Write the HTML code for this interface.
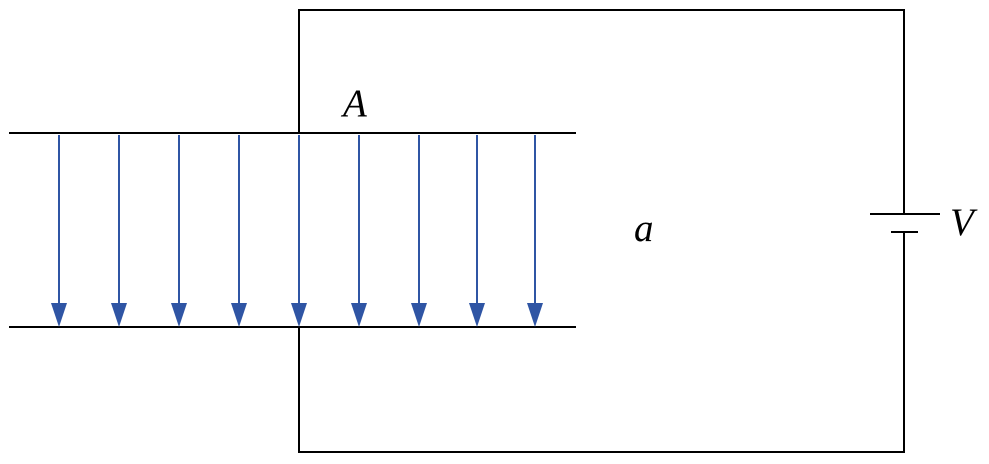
<!DOCTYPE html>
<html><head><style>html,body{margin:0;padding:0;background:#fff;}svg{display:block}</style></head>
<body>
<svg width="989" height="464" viewBox="0 0 989 464" xmlns="http://www.w3.org/2000/svg">
<g stroke="#000" stroke-width="2" fill="none">
<line x1="9" y1="133" x2="576" y2="133"/>
<line x1="9" y1="327" x2="576" y2="327"/>
<polyline points="299,133 299,10 904,10 904,214"/>
<polyline points="299,327 299,452 904,452 904,232"/>
<line x1="870" y1="214" x2="940" y2="214"/>
<line x1="891" y1="232" x2="918" y2="232"/>
</g>
<g stroke="#2f55a4" stroke-width="2" fill="#2f55a4">
<line x1="59" y1="135" x2="59" y2="306"/><polygon stroke="none" points="51,303 67,303 59,327"/>
<line x1="119" y1="135" x2="119" y2="306"/><polygon stroke="none" points="111,303 127,303 119,327"/>
<line x1="179" y1="135" x2="179" y2="306"/><polygon stroke="none" points="171,303 187,303 179,327"/>
<line x1="239" y1="135" x2="239" y2="306"/><polygon stroke="none" points="231,303 247,303 239,327"/>
<line x1="299" y1="135" x2="299" y2="306"/><polygon stroke="none" points="291,303 307,303 299,327"/>
<line x1="359" y1="135" x2="359" y2="306"/><polygon stroke="none" points="351,303 367,303 359,327"/>
<line x1="419" y1="135" x2="419" y2="306"/><polygon stroke="none" points="411,303 427,303 419,327"/>
<line x1="477" y1="135" x2="477" y2="306"/><polygon stroke="none" points="469,303 485,303 477,327"/>
<line x1="535" y1="135" x2="535" y2="306"/><polygon stroke="none" points="527,303 543,303 535,327"/>
</g>
<g font-family="Liberation Serif, serif" font-style="italic" font-size="39" fill="#000">
<text x="343" y="116">A</text>
<text x="634" y="241">a</text>
<text x="950" y="235">V</text>
</g>
</svg>
</body></html>
